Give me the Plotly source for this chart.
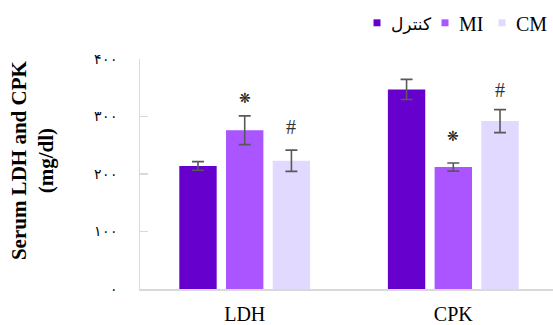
import plotly.graph_objects as go

# ---- data ----
categories = ["LDH", "CPK"]
series_names = ["کنترل", "MI", "CM"]
control_vals = [214, 347]
control_err = [7.5, 17.5]
mi_vals = [276, 212]
mi_err = [25, 7]
cm_vals = [223, 292]
cm_err = [18.5, 20]
mi_sig = ["❋", "❋"]
cm_sig = ["#", "#"]
ytick_vals = [0, 100, 200, 300, 400]
ytick_text = ["۰", "۱۰۰", "۲۰۰", "۳۰۰", "۴۰۰"]

# ---- style ----
colors = ["#6600CC", "#AA55FF", "#E1D9FF"]
W, H = 553, 325
L, R, T, B = 140, 0, 59, 34
bargap, bargroupgap = 0.328, 0.2
serif = "Liberation Serif, Times New Roman, DejaVu Serif, serif"

x = list(range(len(categories)))
fig = go.Figure()
vals = [control_vals, mi_vals, cm_vals]
errs = [control_err, mi_err, cm_err]
for name, v, e, c in zip(series_names, vals, errs, colors):
    fig.add_trace(go.Bar(
        x=x, y=v, name=name, marker=dict(color=c, line=dict(width=0)),
        error_y=dict(type="data", array=e, visible=True, color="#595959",
                     thickness=1.6, width=6),
        showlegend=False, hoverinfo="skip",
    ))

slot = (1 - bargap) / 3
annos = []
sig_shift_mi = [18, 27]
sig_shift_cm = [23, 20]
for i in x:
    annos.append(dict(x=i, y=mi_vals[i] + mi_err[i], text=mi_sig[i], showarrow=False,
                      yanchor="middle", yshift=sig_shift_mi[i],
                      font=dict(size=14, color="#222222", family="DejaVu Sans")))
    annos.append(dict(x=i + slot, y=cm_vals[i] + cm_err[i], text=cm_sig[i], showarrow=False,
                      yanchor="middle", yshift=sig_shift_cm[i],
                      font=dict(size=20, color="#333333", family=serif)))

pw = W - L - R
ph = H - T - B
def px2paper(px, py):
    return (px - L) / pw, (H - B - py) / ph

tx, ty = px2paper(32, 161)
annos.append(dict(xref="paper", yref="paper", x=tx, y=ty, text="<b>Serum LDH and CPK<br>(mg/dl)</b>",
                  textangle=-90, showarrow=False, xanchor="center", yanchor="middle",
                  font=dict(size=21, color="#000000", family=serif)))

# legend (custom)
shapes = []
leg_sq = [(373.5, 380.5), (441.5, 448.5), (498.5, 505.5)]
leg_tx = [389, 456.5, 513.5]
leg_fonts = ["DejaVu Sans", serif, serif]
leg_sizes = [17, 20, 20]
for (a, b), tx0, name, c, ff, fs in zip(leg_sq, leg_tx, series_names, colors, leg_fonts, leg_sizes):
    x0, y0 = px2paper(a, 26)
    x1, y1 = px2paper(b, 19)
    shapes.append(dict(type="rect", xref="paper", yref="paper", x0=x0, x1=x1, y0=y0, y1=y1,
                       fillcolor=c, line=dict(width=0)))
    lx, ly = px2paper(tx0, 24)
    annos.append(dict(xref="paper", yref="paper", x=lx, y=ly, text=name, showarrow=False,
                      xanchor="left", yanchor="middle",
                      font=dict(size=fs, color="#000000", family=ff)))

fig.update_layout(
    width=W, height=H,
    margin=dict(l=L, r=R, t=T, b=B, pad=0),
    paper_bgcolor="white", plot_bgcolor="white",
    barmode="group", bargap=bargap, bargroupgap=bargroupgap,
    annotations=annos, shapes=shapes,
    showlegend=False, hovermode=False,
    xaxis=dict(range=[-0.502, 1.478], tickvals=x, ticktext=categories,
               showgrid=False, zeroline=False, showline=True, linecolor="#D9D9D9",
               linewidth=1.5, ticks="", ticklabelstandoff=6,
               tickfont=dict(size=20, family=serif, color="#000000")),
    yaxis=dict(range=[0, 400], tickvals=ytick_vals, ticktext=ytick_text,
               showgrid=False, zeroline=False, showline=True, linecolor="#D9D9D9",
               linewidth=1.5, ticks="inside", ticklen=8, tickcolor="#D9D9D9", tickwidth=1.5,
               ticklabelstandoff=18,
               tickfont=dict(size=14, family=serif, color="#000000")),
)

fig.write_html("out.html", config={"displayModeBar": False, "staticPlot": True})
with open("out.html", encoding="utf-8") as f:
    html = f.read()
html = html.replace("<head>", "<head><style>html,body{margin:0;padding:0;overflow:hidden}</style>", 1)
with open("out.html", "w", encoding="utf-8") as f:
    f.write(html)
